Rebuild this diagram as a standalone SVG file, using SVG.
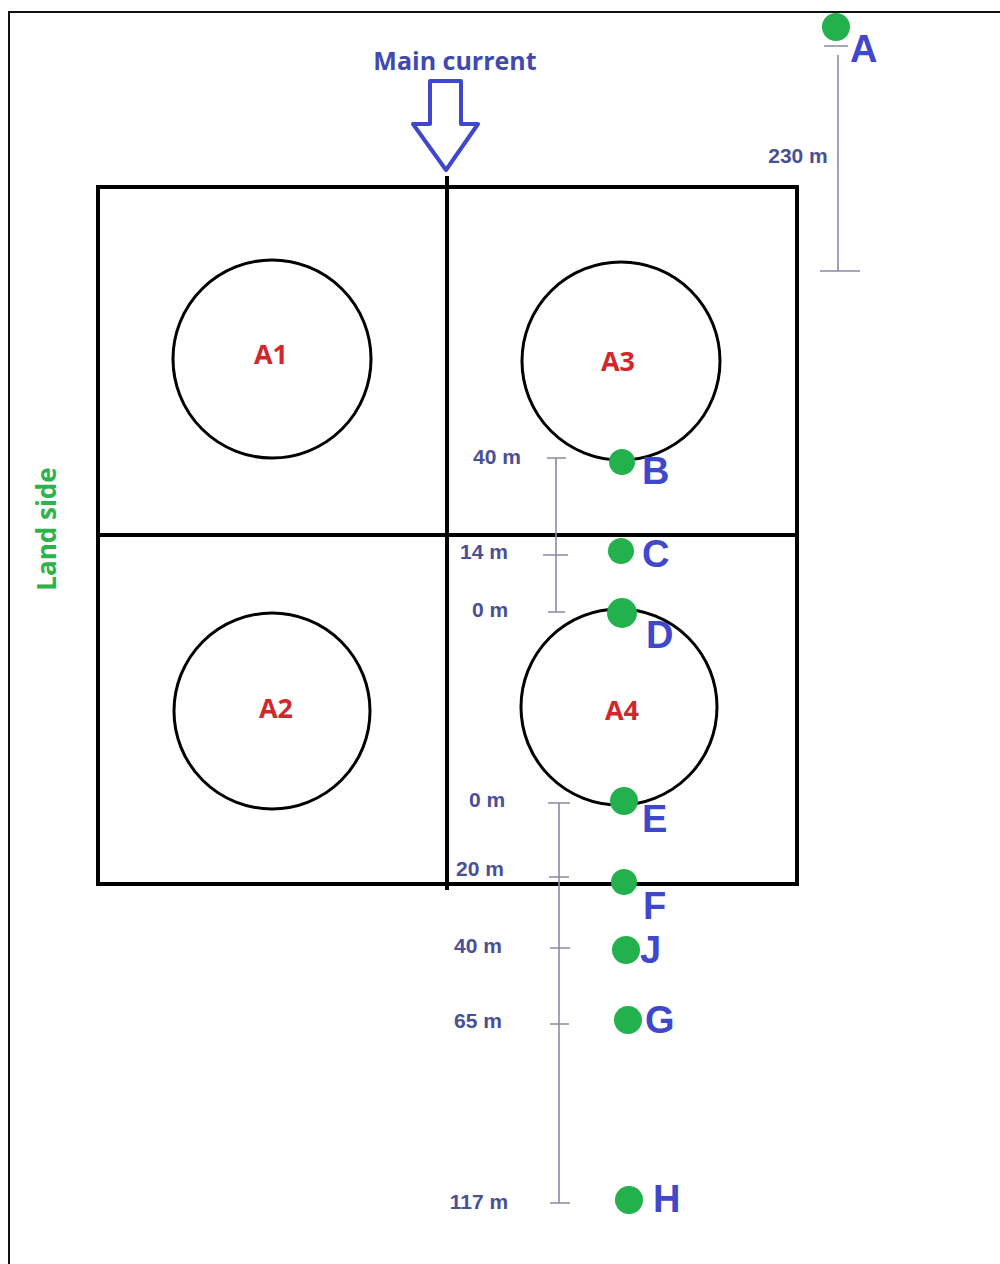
<svg xmlns="http://www.w3.org/2000/svg" width="1000" height="1264" viewBox="0 0 1000 1264">
<style>
.frame{fill:none;stroke:#111;stroke-width:2}
.grid{fill:none;stroke:#000;stroke-width:4}
.pond{fill:none;stroke:#000;stroke-width:3}
.dim{stroke:#8a8aa6;stroke-width:1.6;fill:none}
.dot{fill:#22b14c}
.pt{font-family:"Liberation Sans",Arial,sans-serif;font-weight:bold;font-size:38px;fill:#3f48cc}
.dl{font-family:"Liberation Sans",Arial,sans-serif;font-weight:bold;font-size:21px;fill:#4a4f96;text-anchor:middle}
.an{font-family:"Open Sans",sans-serif;font-weight:bold;font-size:27px;fill:#d0282c;text-anchor:middle}
</style>
<rect x="0" y="0" width="1000" height="1264" fill="#fff"/>
<path class="frame" d="M9 1264 V12 H1000"/>
<g id="grid">
<rect class="grid" x="98" y="187" width="699" height="697"/>
<line class="grid" x1="447" y1="176" x2="447" y2="890"/>
<line class="grid" x1="98" y1="535" x2="797" y2="535"/>
</g>
<g id="A1"><circle class="pond" cx="272" cy="359" r="99"/><text class="an" x="271" y="364">A1</text></g>
<g id="A2"><circle class="pond" cx="272" cy="711" r="98"/><text class="an" x="276" y="718">A2</text></g>
<g id="A3"><circle class="pond" cx="621" cy="361" r="99"/><text class="an" x="618" y="371">A3</text></g>
<g id="A4"><circle class="pond" cx="619" cy="707" r="98"/><text class="an" x="622" y="720">A4</text></g>
<g id="main-current">
<text x="455" y="70" font-family="'Open Sans',sans-serif" font-weight="bold" font-size="25" fill="#4149b0" text-anchor="middle">Main current</text>
<path d="M430 81 H461 V124 H478 L446 170 L413 124 H430 Z" fill="none" stroke="#3f48cc" stroke-width="4" stroke-linejoin="round"/>
</g>
<text id="land-side" transform="translate(56,529) rotate(-90)" font-family="'Open Sans',sans-serif" font-weight="bold" font-size="26" fill="#2db34a" text-anchor="middle">Land side</text>
<g id="connectors">
<path class="dim" d="M838 55 V271 M824 46 H848 M820 271 H860"/>
<path class="dim" d="M556 458 V612 M547 458 H566 M543 555 H568 M548 612 H565"/>
<path class="dim" d="M559 803 V1203 M548 803 H570 M549 877 H569 M550 948 H570 M550 1024 H569 M550 1203 H570"/>
</g>
<g id="dim-labels">
<text class="dl" x="798" y="163">230 m</text>
<text class="dl" x="497" y="464">40 m</text>
<text class="dl" x="484" y="559">14 m</text>
<text class="dl" x="490" y="617">0 m</text>
<text class="dl" x="487" y="807">0 m</text>
<text class="dl" x="480" y="876">20 m</text>
<text class="dl" x="478" y="953">40 m</text>
<text class="dl" x="478" y="1028">65 m</text>
<text class="dl" x="479" y="1209">117 m</text>
</g>
<g id="A"><circle class="dot" cx="836" cy="27" r="14"/><text class="pt" x="850" y="62">A</text></g>
<g id="B"><circle class="dot" cx="622" cy="462" r="13"/><text class="pt" x="642" y="484">B</text></g>
<g id="C"><circle class="dot" cx="621" cy="551" r="13"/><text class="pt" x="642" y="567">C</text></g>
<g id="D"><circle class="dot" cx="622" cy="613" r="15"/><text class="pt" x="646" y="648">D</text></g>
<g id="E"><circle class="dot" cx="624" cy="801" r="14"/><text class="pt" x="642" y="832">E</text></g>
<g id="F"><circle class="dot" cx="624" cy="882" r="13"/><text class="pt" x="643" y="919">F</text></g>
<g id="J"><circle class="dot" cx="626" cy="950" r="14"/><text class="pt" x="640" y="963">J</text></g>
<g id="G"><circle class="dot" cx="628" cy="1020" r="14"/><text class="pt" x="645" y="1033">G</text></g>
<g id="H"><circle class="dot" cx="629" cy="1200" r="14"/><text class="pt" x="653" y="1212">H</text></g>
</svg>
